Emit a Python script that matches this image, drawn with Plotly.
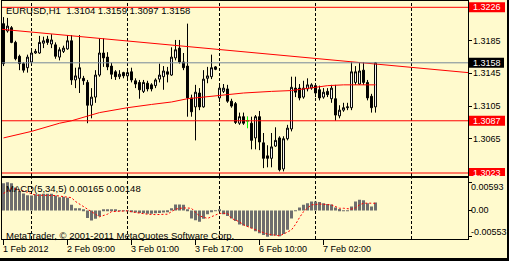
import plotly.graph_objects as go

W, H = 509, 261

symbol = "EURUSD"
timeframe = "H1"

opens = [1.3206, 1.3197, 1.3201, 1.3183, 1.3166, 1.3157, 1.3152, 1.3159, 1.3170, 1.3170,
         1.3182, 1.3187, 1.3181, 1.3180, 1.3165, 1.3172, 1.3175, 1.3185, 1.3137, 1.3139,
         1.3139, 1.3134, 1.3106, 1.3116, 1.3143, 1.3170, 1.3165, 1.3154, 1.3147, 1.3141,
         1.3146, 1.3142, 1.3147, 1.3136, 1.3134, 1.3123, 1.3133, 1.3131, 1.3130, 1.3138,
         1.3141, 1.3147, 1.3143, 1.3164, 1.3176, 1.3159, 1.3154, 1.3115, 1.3104, 1.3121,
         1.3104, 1.3139, 1.3141, 1.3153, 1.3115, 1.3123, 1.3126, 1.3111, 1.3108, 1.3084,
         1.3092, 1.3087, 1.3084, 1.3066, 1.3092, 1.3060, 1.3044, 1.3041, 1.3056, 1.3066,
         1.3028, 1.3065, 1.3077, 1.3127, 1.3127, 1.3116, 1.3126, 1.3127, 1.3130, 1.3125,
         1.3116, 1.3123, 1.3114, 1.3114, 1.3093, 1.3100, 1.3103, 1.3103, 1.3134, 1.3132,
         1.3149, 1.3134, 1.3117, 1.3104]
highs = [1.3214, 1.3213, 1.3203, 1.3185, 1.3168, 1.3159, 1.3168, 1.3174, 1.3175, 1.3191,
         1.3190, 1.3191, 1.3193, 1.3183, 1.3177, 1.3179, 1.3192, 1.3192, 1.3152, 1.3192,
         1.3142, 1.3137, 1.3127, 1.3149, 1.3188, 1.3188, 1.3171, 1.3158, 1.3149, 1.3149,
         1.3147, 1.3148, 1.3152, 1.3139, 1.3137, 1.3137, 1.3136, 1.3133, 1.3139, 1.3157,
         1.3154, 1.3153, 1.3177, 1.3186, 1.3186, 1.3170, 1.3206, 1.3119, 1.3131, 1.3127,
         1.3149, 1.3153, 1.3168, 1.3154, 1.3131, 1.3132, 1.3131, 1.3114, 1.3110, 1.3097,
         1.3097, 1.3092, 1.3092, 1.3094, 1.3099, 1.3072, 1.3057, 1.3072, 1.3079, 1.3068,
         1.3068, 1.3082, 1.3141, 1.3141, 1.3132, 1.3136, 1.3139, 1.3133, 1.3132, 1.3130,
         1.3127, 1.3127, 1.3131, 1.3131, 1.3106, 1.3109, 1.3109, 1.3159, 1.3154, 1.3158,
         1.3159, 1.3137, 1.3120, 1.3159]
lows = [1.3154, 1.3195, 1.3182, 1.3161, 1.3149, 1.3146, 1.3146, 1.3157, 1.3169, 1.3169,
        1.3176, 1.3180, 1.3176, 1.3163, 1.3161, 1.3170, 1.3174, 1.3131, 1.3127, 1.3121,
        1.3131, 1.3084, 1.3090, 1.3109, 1.3141, 1.3153, 1.3149, 1.3138, 1.3137, 1.3138,
        1.3139, 1.3139, 1.3134, 1.3127, 1.3114, 1.3121, 1.3123, 1.3123, 1.3127, 1.3134,
        1.3125, 1.3134, 1.3142, 1.3161, 1.3157, 1.3149, 1.3092, 1.3092, 1.3063, 1.3100,
        1.3103, 1.3133, 1.3138, 1.3149, 1.3110, 1.3121, 1.3109, 1.3103, 1.3083, 1.3082,
        1.3082, 1.3078, 1.3052, 1.3052, 1.3051, 1.3029, 1.3030, 1.3030, 1.3055, 1.3025,
        1.3025, 1.3063, 1.3074, 1.3116, 1.3112, 1.3114, 1.3123, 1.3125, 1.3116, 1.3112,
        1.3114, 1.3116, 1.3109, 1.3087, 1.3090, 1.3098, 1.3100, 1.3100, 1.3131, 1.3131,
        1.3131, 1.3112, 1.3097, 1.3097]
closes = [1.3157, 1.3203, 1.3183, 1.3163, 1.3157, 1.3149, 1.3165, 1.3170, 1.3172, 1.3183,
          1.3185, 1.3183, 1.3186, 1.3166, 1.3174, 1.3176, 1.3185, 1.3137, 1.3142, 1.3152,
          1.3136, 1.3106, 1.3116, 1.3143, 1.3170, 1.3164, 1.3153, 1.3144, 1.3141, 1.3144,
          1.3142, 1.3146, 1.3137, 1.3132, 1.3125, 1.3134, 1.3126, 1.3126, 1.3137, 1.3143,
          1.3148, 1.3144, 1.3165, 1.3174, 1.3159, 1.3152, 1.3115, 1.3098, 1.3122, 1.3104,
          1.3138, 1.3142, 1.3152, 1.3150, 1.3127, 1.3127, 1.3111, 1.3105, 1.3085, 1.3092,
          1.3084, 1.3087, 1.3063, 1.3092, 1.3061, 1.3041, 1.3041, 1.3055, 1.3063, 1.3027,
          1.3065, 1.3078, 1.3128, 1.3122, 1.3115, 1.3127, 1.3131, 1.3131, 1.3121, 1.3115,
          1.3122, 1.3119, 1.3127, 1.3094, 1.3100, 1.3103, 1.3104, 1.3147, 1.3147, 1.3148,
          1.3134, 1.3115, 1.3103, 1.3158]

# moving average (bar index, price)
ma_idx = [0, 7, 14, 17, 24, 31, 37, 42, 46, 52, 55, 60, 67, 72, 75, 78, 81, 85, 93]
ma_val = [1.3066, 1.3074, 1.3084, 1.3087, 1.3097, 1.3103, 1.3107, 1.3110, 1.3114, 1.3117,
          1.3119, 1.3121, 1.3123, 1.3124, 1.3126, 1.3128, 1.3130, 1.3131, 1.3131]

# trend line (drawn object) end points
trend_idx = [-0.375, 116.125]
trend_val = [1.3199, 1.3146]

level_lines = [1.3226, 1.3087, 1.3023]
bid_price = 1.3158
price_ticks = [1.3185, 1.3145, 1.3105, 1.3065]

day_sep_idx = [7, 31, 54, 78, 102]
time_tick_idx = [0, 16, 32, 48, 64, 80]
time_tick_text = ["1 Feb 2012", "2 Feb 09:00", "3 Feb 01:00", "3 Feb 17:00",
                  "6 Feb 10:00", "7 Feb 02:00"]

macd_params = (5, 34, 5)
macd_hist = [0.00570, 0.00593, 0.00570, 0.00481, 0.00409, 0.00356, 0.00320, 0.00312, 0.00338, 0.00338,
             0.00347, 0.00347, 0.00347, 0.00312, 0.00276, 0.00285, 0.00267, 0.00116, 0.00045, 0.00045,
             0.00009, -0.00160, -0.00214, -0.00178, -0.00125, 0.00018, 0.00018, 0.00009, 0.00002, -0.00009,
             -0.00009, -0.00009, -0.00027, -0.00045, -0.00053, -0.00062, -0.00071, -0.00071, -0.00062, -0.00053,
             -0.00045, -0.00027, 0.00045, 0.00125, 0.00125, 0.00116, 0.00009, -0.00169, -0.00205, -0.00240,
             -0.00178, -0.00080, -0.00036, -0.00018, 0.00018, -0.00080, -0.00116, -0.00169, -0.00223, -0.00294,
             -0.00320, -0.00338, -0.00374, -0.00436, -0.00481, -0.00516, -0.00553, -0.00534, -0.00525, -0.00545,
             -0.00498, -0.00409, -0.00169, -0.00002, 0.00062, 0.00116, 0.00151, 0.00187, 0.00187, 0.00178,
             0.00151, 0.00134, 0.00125, 0.00062, 0.00027, -0.00018, -0.00018, 0.00080, 0.00187, 0.00223,
             0.00214, 0.00151, 0.00080, 0.00165]
signal_idx = [0, 2, 5, 8, 13, 17, 18, 20, 21, 23, 24, 26, 27, 31, 33, 36, 38, 41, 43, 45,
              47, 48, 49, 51, 52, 54, 56, 57, 59, 60, 62, 64, 66, 69, 70, 72, 73, 74, 75, 76,
              77, 79, 82, 84, 85, 87, 88, 89, 90, 92, 93]
signal_val = [0.00356, 0.00463, 0.00409, 0.00320, 0.00312, 0.00267, 0.00187, 0.00080, 0.00009, -0.00080,
              -0.00134, -0.00080, -0.00027, -0.00009, -0.00045, -0.00080, -0.00089, -0.00080, 0.00027, 0.00053,
              0.00045, -0.00045, -0.00116, -0.00169, -0.00134, -0.00062, -0.00062, -0.00169, -0.00240, -0.00303,
              -0.00374, -0.00436, -0.00498, -0.00534, -0.00498, -0.00409, -0.00294, -0.00151, -0.00027, 0.00053,
              0.00116, 0.00134, 0.00116, 0.00045, 0.00045, 0.00027, 0.00053, 0.00116, 0.00151, 0.00151,
              0.00148]
macd_scale_labels = [0.00593, 0.0, -0.00553]

# ---------------------------------------------------------------------------
BG = "#FFFACD"
FONT = "Liberation Sans, Arial, sans-serif"
n = len(opens)
idx = list(range(n))


def px_x(p):
    return p / W


def px_y(p):
    return 1 - p / H


fig = go.Figure()

fig.add_trace(go.Candlestick(
    x=idx, open=opens, high=highs, low=lows, close=closes,
    increasing=dict(line=dict(color="black", width=1), fillcolor="white"),
    decreasing=dict(line=dict(color="black", width=1), fillcolor="black"),
    whiskerwidth=0, xaxis="x", yaxis="y", hoverinfo="skip", showlegend=False))

# doji bars drawn in lime like the terminal
dx, dy = [], []
for i in idx:
    if opens[i] == closes[i]:
        dx += [i, i, None, i - 0.4, i + 0.4, None]
        dy += [highs[i], lows[i], None, opens[i], opens[i], None]
fig.add_trace(go.Scatter(x=dx, y=dy, mode="lines", line=dict(color="#00FF00", width=1),
                         xaxis="x", yaxis="y", hoverinfo="skip", showlegend=False))

fig.add_trace(go.Scatter(x=ma_idx, y=ma_val, mode="lines", line=dict(color="#FF0000", width=1),
                         xaxis="x", yaxis="y", hoverinfo="skip", showlegend=False))
fig.add_trace(go.Scatter(x=trend_idx, y=trend_val, mode="lines", line=dict(color="#FF0000", width=1),
                         xaxis="x", yaxis="y", hoverinfo="skip", showlegend=False))

fig.add_trace(go.Bar(x=idx, y=macd_hist, width=0.75,
                     marker=dict(color="#6E6E6E", line=dict(width=0)),
                     xaxis="x2", yaxis="y2", hoverinfo="skip", showlegend=False))
fig.add_trace(go.Scatter(x=signal_idx, y=signal_val, mode="lines",
                         line=dict(color="#FF0000", width=1, dash="2px,2px"),
                         xaxis="x2", yaxis="y2", hoverinfo="skip", showlegend=False))

xr = [-0.375, 116.125]
xdom = [px_x(2), px_x(468)]
axis_common = dict(showgrid=False, zeroline=False, showline=True, linecolor="black",
                   linewidth=1, mirror=True, tickcolor="black", tickwidth=1)

fig.update_layout(
    width=W, height=H, margin=dict(l=0, r=0, t=0, b=0),
    paper_bgcolor=BG, plot_bgcolor=BG, showlegend=False,
    font=dict(family=FONT, size=9, color="black"),
    xaxis=dict(domain=xdom, range=xr, anchor="y", showticklabels=False, ticks="",
               rangeslider=dict(visible=False), **axis_common),
    yaxis=dict(domain=[px_y(176), px_y(0.5)], range=[1.301934, 1.323433], anchor="x",
               side="right", ticks="outside", ticklen=3,
               tickvals=price_ticks + level_lines + [bid_price], showticklabels=False,
               **axis_common),
    xaxis2=dict(domain=xdom, range=xr, anchor="y2", ticks="outside", ticklen=5,
                tickvals=time_tick_idx, showticklabels=False, **axis_common),
    yaxis2=dict(domain=[px_y(239), px_y(178.3)], range=[-0.00601, 0.00674], anchor="x2",
                side="right", ticks="outside", ticklen=3, tickvals=macd_scale_labels,
                showticklabels=False, **axis_common),
)

shapes = []
for d in day_sep_idx:
    for yr in ("y domain", "y2 domain"):
        shapes.append(dict(type="line", xref="x", yref=yr, x0=d, x1=d, y0=0, y1=1,
                           line=dict(color="black", width=1, dash="3px,2px"), layer="below"))
for v in level_lines:
    shapes.append(dict(type="line", xref="paper", yref="y", x0=xdom[0], x1=xdom[1], y0=v, y1=v,
                       line=dict(color="#FF0000", width=1)))
shapes.append(dict(type="line", xref="paper", yref="y", x0=xdom[0], x1=xdom[1],
                   y0=bid_price, y1=bid_price, line=dict(color="#778899", width=1)))
# label boxes on the price scale
for v in level_lines:
    shapes.append(dict(type="rect", xref="paper", yref="y", ysizemode="pixel", yanchor=v,
                       x0=px_x(469), x1=px_x(505), y0=-5, y1=5,
                       fillcolor="#FF0000", line=dict(width=0)))
shapes.append(dict(type="rect", xref="paper", yref="y", ysizemode="pixel", yanchor=bid_price,
                   x0=px_x(469), x1=px_x(504), y0=-5, y1=5,
                   fillcolor="black", line=dict(width=0)))
# window border (bottom / right)
shapes.append(dict(type="rect", xref="paper", yref="paper", x0=0, x1=1, y0=0, y1=px_y(258),
                   fillcolor="black", line=dict(width=0)))
shapes.append(dict(type="rect", xref="paper", yref="paper", x0=px_x(507), x1=1, y0=0, y1=1,
                   fillcolor="black", line=dict(width=0)))
fig.update_layout(shapes=shapes)

ann = []
base = dict(showarrow=False, borderpad=0, borderwidth=0, font=dict(family=FONT, size=9.5, color="black"))
small = dict(showarrow=False, borderpad=0, borderwidth=0, font=dict(family=FONT, size=9, color="black"))
small_w = dict(showarrow=False, borderpad=0, borderwidth=0, font=dict(family=FONT, size=9, color="white"))
title = f"{symbol},{timeframe}\u00a0 {opens[-1]:.4f} {highs[-1]:.4f} {lows[-1]:.4f} {closes[-1]:.4f}"
ann.append(dict(text=title, xref="paper", yref="paper", x=px_x(6), y=px_y(10.5),
                xanchor="left", yanchor="middle", **base))
macd_title = f"MACD({macd_params[0]},{macd_params[1]},{macd_params[2]}) {macd_hist[-1]:.5f} {signal_val[-1]:.5f}"
ann.append(dict(text=macd_title, xref="paper", yref="paper", x=px_x(6), y=px_y(188.8),
                xanchor="left", yanchor="middle", **base))
ann.append(dict(text="MetaTrader, \u00a9 2001-2011 MetaQuotes Software Corp.", xref="paper",
                yref="paper", x=px_x(5.5), y=px_y(235.8), xanchor="left", yanchor="middle",
                **base))
for t, txt in zip(time_tick_idx, time_tick_text):
    ann.append(dict(text=txt, xref="x2", yref="paper", x=t, y=px_y(249.2), xshift=-1,
                    xanchor="left", yanchor="middle", **small))
for v in price_ticks:
    ann.append(dict(text=f"{v:.4f}", xref="paper", yref="y", x=px_x(473), y=v,
                    xanchor="left", yanchor="middle", **small))
for v in level_lines:
    ann.append(dict(text=f"{v:.4f}", xref="paper", yref="y", x=px_x(473), y=v,
                    xanchor="left", yanchor="middle", **small_w))
ann.append(dict(text=f"{bid_price:.4f}", xref="paper", yref="y", x=px_x(473), y=bid_price,
                xanchor="left", yanchor="middle", **small_w))
for v, anc in zip(macd_scale_labels, ("top", "middle", "bottom")):
    txt = f"{v:.5f}" if v != 0 else "0.00"
    ann.append(dict(text=txt, xref="paper", yref="y2", x=px_x(471), y=v,
                    xanchor="left", yanchor=anc, **small))
fig.update_layout(annotations=ann)

fig.write_html("out.html")
